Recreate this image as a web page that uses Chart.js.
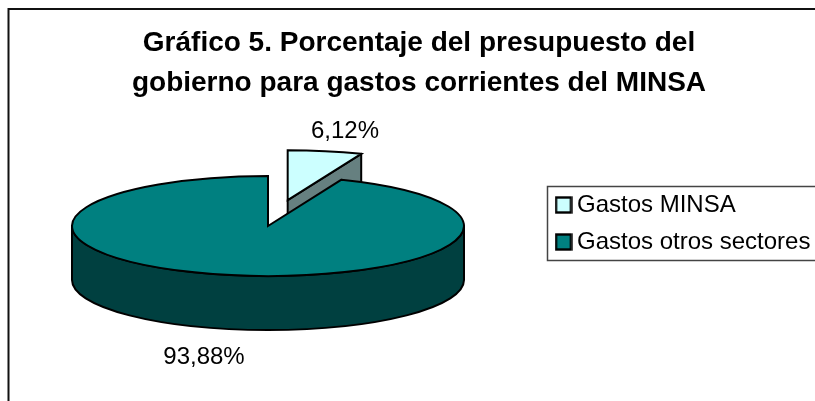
<!DOCTYPE html>
<html>
<head>
<meta charset="utf-8">
<style>html,body{margin:0;padding:0;background:#fff;overflow:hidden}canvas{display:block}</style>
<script src="https://cdn.jsdelivr.net/npm/chart.js@4/dist/chart.umd.js"></script>
</head>
<body>
<canvas id="c" width="815" height="401" style="width:815px;height:401px"></canvas>
<script>
const titleLines = ['Gráfico 5. Porcentaje del presupuesto del', 'gobierno para gastos corrientes del MINSA'];
const categories = ['Gastos MINSA', 'Gastos otros sectores'];
const values = [6.12, 93.88];
const sliceColors = ['#CCFFFF', '#008080'];
const wallColors = ['#668080', '#004040'];

const FONT = '"Liberation Sans", Arial, sans-serif';
const PIE = {cx: 268, cy: 226, r: 196, k: 50 / 196, depth: 54, explode: [103, 0]};
const labelPos = [[345, 131], [204, 357]];

function marker(color) {
  const c = document.createElement('canvas');
  c.width = 18; c.height = 18;
  const g = c.getContext('2d');
  g.fillStyle = color; g.strokeStyle = '#000'; g.lineWidth = 2.4;
  g.fillRect(1.5, 1.5, 15, 15); g.strokeRect(1.5, 1.5, 15, 15);
  return c;
}

function place(arc, i) {
  const mid = (arc.startAngle + arc.endAngle) / 2;
  return {
    x: PIE.cx + Math.cos(mid) * PIE.explode[i],
    y: PIE.cy + Math.sin(mid) * PIE.explode[i] * PIE.k
  };
}

function draw3d(arc, i, ctx, baseDraw) {
  const p = place(arc, i);
  const rx = arc.outerRadius, ry = rx * PIE.k;
  const a0 = arc.startAngle, a1 = arc.endAngle;
  const pt = a => [p.x + Math.cos(a) * rx, p.y + Math.sin(a) * ry];
  ctx.save();
  ctx.lineWidth = 2;
  ctx.lineJoin = 'round';
  ctx.strokeStyle = '#000';
  ctx.fillStyle = wallColors[i];
  if (i === 0) {
    // cut face of the exploded slice, seen from the front
    const e = pt(a1);
    ctx.beginPath();
    ctx.moveTo(p.x, p.y);
    ctx.lineTo(e[0], e[1]);
    ctx.lineTo(e[0], e[1] + PIE.depth);
    ctx.lineTo(p.x, p.y + PIE.depth);
    ctx.closePath();
    ctx.fill(); ctx.stroke();
  } else {
    // outer rim of the front half
    ctx.beginPath();
    ctx.ellipse(p.x, p.y, rx, ry, 0, 0, Math.PI, false);
    ctx.lineTo(p.x - rx, p.y + PIE.depth);
    ctx.ellipse(p.x, p.y + PIE.depth, rx, ry, 0, Math.PI, 0, true);
    ctx.closePath();
    ctx.fill(); ctx.stroke();
  }
  ctx.restore();

  // top face: the library's own arc, projected
  ctx.save();
  ctx.translate(p.x, p.y);
  ctx.scale(1, PIE.k);
  ctx.translate(-arc.x, -arc.y);
  baseDraw.call(arc, ctx);
  ctx.restore();

  // outline with a uniform stroke
  ctx.save();
  ctx.lineWidth = 2;
  ctx.lineJoin = 'miter';
  ctx.strokeStyle = '#000';
  ctx.beginPath();
  ctx.moveTo(p.x, p.y);
  ctx.ellipse(p.x, p.y, rx, ry, 0, a0, a1, false);
  ctx.closePath();
  ctx.stroke();
  ctx.restore();
}

const scene = {
  id: 'scene',
  afterLayout(chart) {
    const l = chart.legend;
    l.left = 549; l.right = 815; l.top = 180; l.bottom = 401;
    l.width = 266; l.height = 221;
  },
  beforeDraw(chart) {
    const ctx = chart.ctx;
    ctx.save();
    ctx.fillStyle = '#fff';
    ctx.fillRect(0, 0, 815, 401);
    ctx.strokeStyle = '#111';
    ctx.lineWidth = 2;
    ctx.beginPath();
    ctx.moveTo(8.5, 401); ctx.lineTo(8.5, 9); ctx.lineTo(815, 9);
    ctx.stroke();
    ctx.strokeStyle = '#444';
    ctx.lineWidth = 1.5;
    ctx.strokeRect(547.5, 186.5, 300, 74);
    ctx.restore();
  },
  beforeDatasetsDraw(chart) {
    chart.getDatasetMeta(0).data.forEach((arc, i) => {
      if (arc._wrapped) return;
      const base = Object.getPrototypeOf(arc).draw;
      arc.draw = function (ctx) { draw3d(this, i, ctx, base); };
      arc._wrapped = true;
    });
  },
  afterDatasetsDraw(chart) {
    const ctx = chart.ctx;
    ctx.save();
    ctx.font = '24px ' + FONT;
    ctx.fillStyle = '#000';
    ctx.textAlign = 'center';
    ctx.textBaseline = 'middle';
    values.forEach((v, i) => {
      ctx.fillText(v.toFixed(2).replace('.', ',') + '%', labelPos[i][0], labelPos[i][1]);
    });
    ctx.restore();
  }
};

new Chart(document.getElementById('c'), {
  type: 'pie',
  data: {
    labels: categories,
    datasets: [{
      data: values,
      backgroundColor: sliceColors,
      borderWidth: 0,
      radius: PIE.r
    }]
  },
  options: {
    responsive: false,
    animation: false,
    events: [],
    layout: {padding: {left: 23, top: 0, right: 0, bottom: 0}},
    plugins: {
      tooltip: {enabled: false},
      title: {
        display: true,
        text: titleLines,
        color: '#000',
        font: {family: FONT, size: 28, weight: 'bold', lineHeight: 40 / 28},
        padding: {top: 23, bottom: 0}
      },
      legend: {
        display: true,
        position: 'chartArea',
        align: 'start',
        labels: {
          color: '#000',
          font: {family: FONT, size: 24},
          usePointStyle: true,
          pointStyleWidth: 3,
          padding: 13,
          generateLabels: () => categories.map((t, i) => ({
            text: t,
            fillStyle: sliceColors[i],
            strokeStyle: '#000',
            lineWidth: 2,
            pointStyle: marker(sliceColors[i]),
            hidden: false,
            index: i
          }))
        }
      }
    }
  },
  plugins: [scene]
});
</script>
</body>
</html>
